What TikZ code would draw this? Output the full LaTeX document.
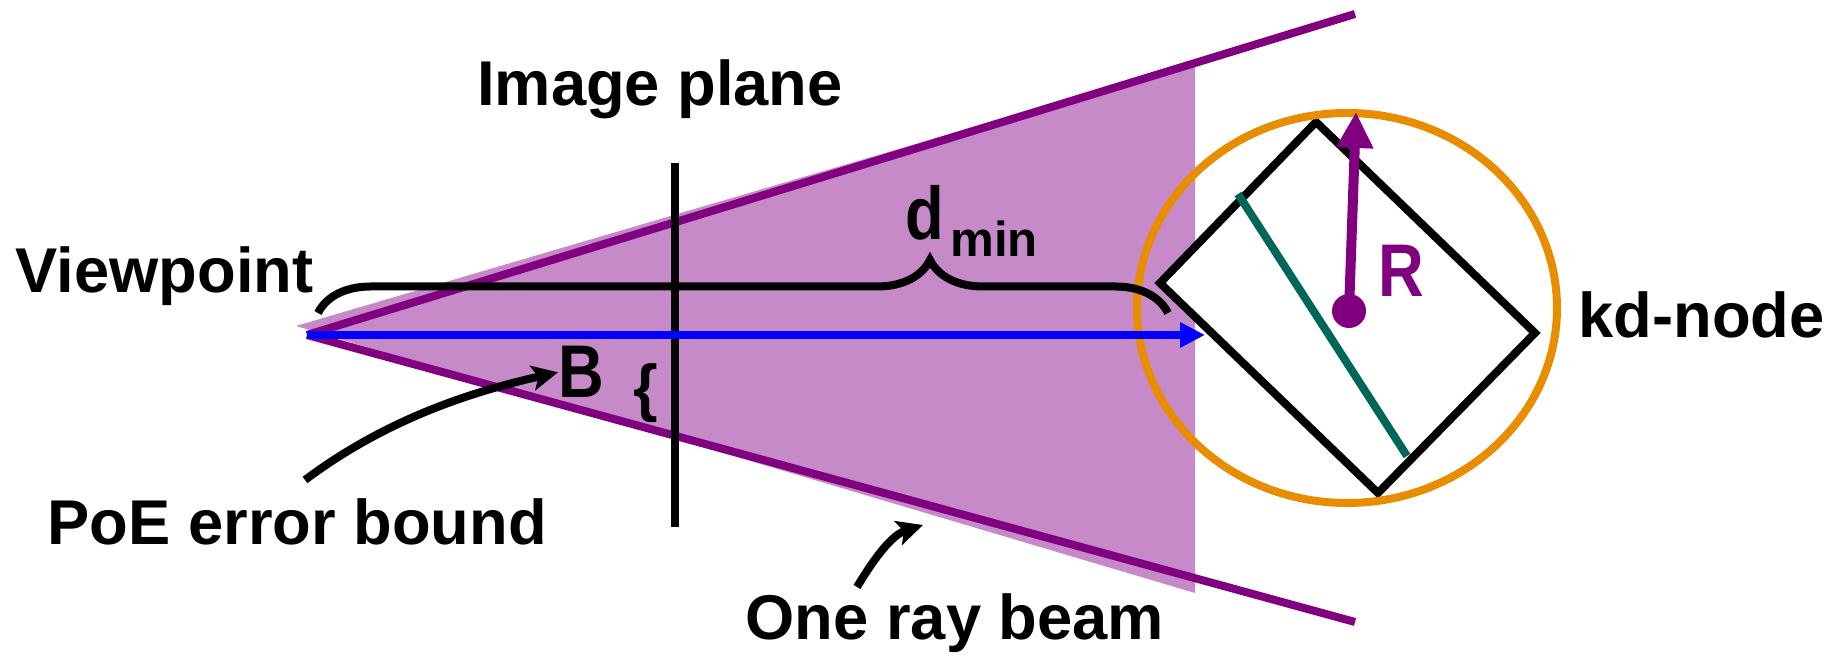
\documentclass[tikz,border=0pt]{standalone}
\usepackage{graphicx}
\usepackage{fontspec}
\setmainfont{Liberation Sans}
\usetikzlibrary{arrows.meta}
\usetikzlibrary{decorations.pathreplacing}
\usetikzlibrary{positioning}
\definecolor{beampurple}{RGB}{128,0,128}
\definecolor{beamfill}{RGB}{198,138,200}
\definecolor{kdteal}{RGB}{0,102,90}
\definecolor{kdorange}{RGB}{232,140,0}
\newcommand{\tallglyph}[1]{\scalebox{1}[1.18]{#1}}

\begin{document}
\begin{tikzpicture}[x=0.1mm, y=-0.1mm, >=Latex,
		lbl/.style={font=\fontsize{18}{20}\selectfont\bfseries, inner sep=0pt},
		thick line/.style={line width=0.8mm},
		pointer/.style={line width=0.8mm, -{Stealth[length=2.6mm,width=2.5mm,inset=0.6mm]}}]
		\useasboundingbox (0,0) rectangle (1831,656);
		% the beam
		\fill[beamfill] (296,326) -- (1195,62) -- (1195,593) -- cycle;
		\coordinate (vp) at (307,335);
		\coordinate (beamtop) at (1355,14);
		\coordinate (beambot) at (1355,622);
		\draw[thick line, beampurple] (vp) -- (beamtop);
		\draw[thick line, beampurple] (vp) -- (beambot);
		% image plane
		\coordinate (iptop) at (675,163);
		\coordinate (ipbot) at (675,527);
		\draw[thick line] (iptop) -- (ipbot);
		% kd-node box, split and bounding sphere
		\coordinate (k1) at (1316,122);
		\coordinate (k2) at (1535,333);
		\coordinate (k3) at (1378,493);
		\coordinate (k4) at (1160,283);
		\filldraw[fill=white, thick line] (k1) -- (k2) -- (k3) -- (k4) -- cycle;
		\coordinate (s1) at (1238,194);
		\coordinate (s2) at (1407,456);
		\draw[thick line, kdteal] (s1) -- (s2);
		\draw[thick line, kdorange] (1347,308) ellipse [x radius=21mm, y radius=19.5mm];
		% the ray
		\coordinate (rayend) at (1205,335);
		\draw[thick line, blue, -{Triangle[length=2.5mm,width=2.4mm]}] (vp) -- (rayend);
		% radius
		\node[circle, fill=beampurple, minimum size=3.4mm, inner sep=0pt] (ctr) at (1349,311) {};
		\coordinate (rtop) at (1356,112);
		\draw[line width=1mm, beampurple, -{Triangle[length=3.6mm,width=3.5mm]}] (ctr.center) -- (rtop);
		% d_min
		\draw[thick line, decorate, decoration={brace, amplitude=5.3mm, aspect=0.72}] (318,313) -- (1168,313);
		% labels
		\node[lbl, anchor=base west] (vptxt) at (15,293) {Viewpoint};
		\node[lbl, anchor=base] (iptxt) at (660,106) {Image plane};
		\node[lbl, anchor=base west] (dtxt) at (905,240) {\tallglyph{d}\hspace{0.6mm}\raisebox{-1.7mm}{\fontsize{14}{16}\selectfont min}};
		\node[lbl, anchor=base west, text=beampurple] (rtxt) at (1378,297) {\tallglyph{R}};
		\node[lbl, anchor=base west] (kdtxt) at (1578,338) {kd-node};
		\node[lbl, anchor=base west] (poetxt) at (47,545) {PoE error bound};
		\node[lbl, anchor=base west] (beamtxt) at (745,640) {One ray beam};
		\node[lbl, anchor=base west] (btxt) at (558,398) {\tallglyph{B}};
		\node[lbl] (bbrace) at (646,393) {\{};
		% pointers
		\coordinate (poefrom) at (305,480);
		\draw[pointer] (poefrom) .. controls (385,420) and (470,392) .. (btxt.west);
		\coordinate (rayfrom) at (857,587);
		\coordinate (rayto) at (923,525);
		\draw[pointer] (rayfrom) .. controls (875,557) and (892,535) .. (rayto);
	\end{tikzpicture}
\end{document}
